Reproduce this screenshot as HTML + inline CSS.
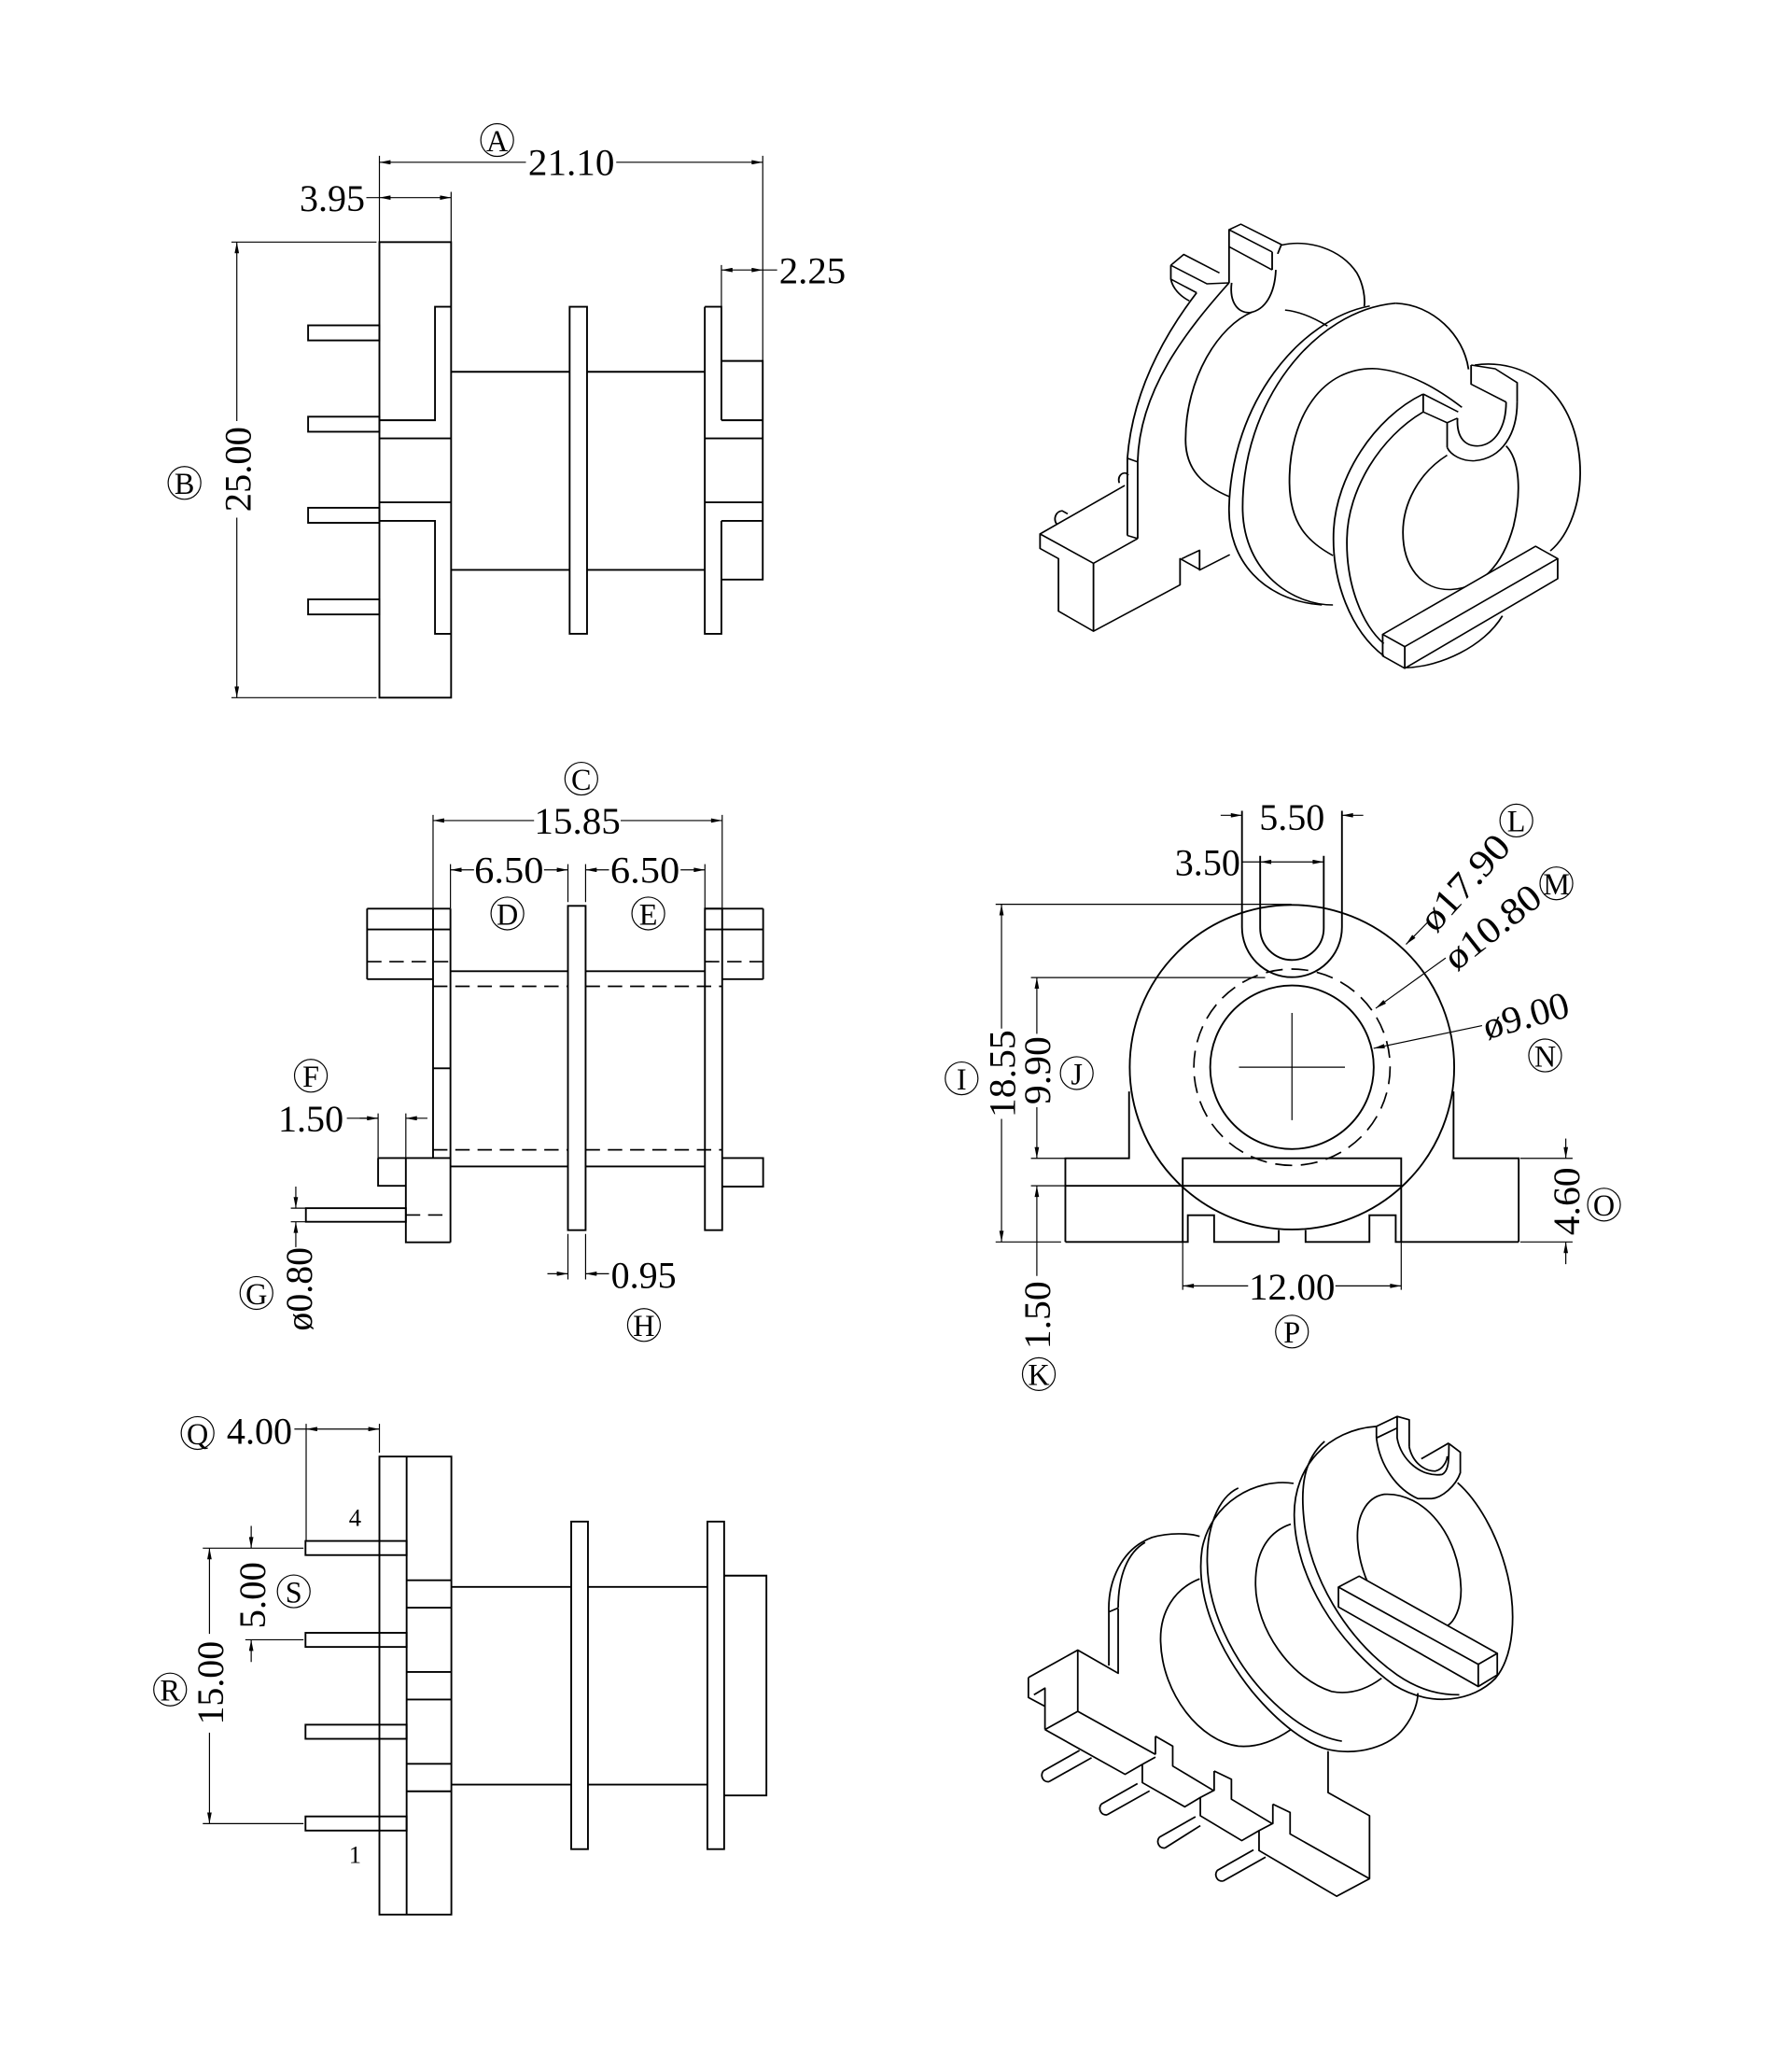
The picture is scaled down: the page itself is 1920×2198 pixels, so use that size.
<!DOCTYPE html>
<html><head><meta charset="utf-8"><style>
html,body{margin:0;padding:0;background:#fff}
svg{display:block}
.o{fill:none;stroke:#000;stroke-width:1.35}
.t{fill:none;stroke:#000;stroke-width:0.85}
.d{fill:none;stroke:#000;stroke-width:1.2;stroke-dasharray:11 6}
.g{fill:none;stroke:#000;stroke-width:4.6;stroke-linejoin:round}
.g8{fill:none;stroke:#000;stroke-width:4.8;stroke-linejoin:round}
text{font-family:"Liberation Serif","DejaVu Serif",serif;fill:#000}
.n{font-size:29px}
.c{font-size:23px}
</style></head><body>
<svg width="1920" height="2198" viewBox="0 0 1369.7 1568" xmlns="http://www.w3.org/2000/svg">
<defs>
<marker id="ar" viewBox="0 0 10 4" refX="10" refY="2" markerWidth="9" markerHeight="3.4" markerUnits="userSpaceOnUse" orient="auto-start-reverse"><path d="M0,0L10,2L0,4z" fill="#000"/></marker>
</defs>
<rect width="1369.7" height="1568" fill="#fff"/>

<!-- ============ VIEW 1 (top-left) ============ -->
<rect class="o" x="290" y="185" width="54.8" height="348.1"/>
<rect class="o" x="235.5" y="248.6" width="54.5" height="11.5"/>
<rect class="o" x="235.5" y="318.4" width="54.5" height="11.5"/>
<rect class="o" x="235.5" y="388" width="54.5" height="11.5"/>
<rect class="o" x="235.5" y="458" width="54.5" height="11.5"/>
<path class="o" d="M344.8,234.4H332.5V321.1H290M290,335H344.8M290,383.8H344.8M290,398H332.5V484.3H344.8"/>
<path class="o" d="M344.8,284.1H435.4M448.7,284.1H538.7M344.8,435.5H435.4M448.7,435.5H538.7"/>
<rect class="o" x="435.4" y="234.4" width="13.3" height="249.9"/>
<path class="o" d="M538.7,234.4V484.3H551.4V398M551.4,321.1V234.4H538.7"/>
<path class="o" d="M551.4,275.8H583V442.9H551.4M551.4,321.1H583M538.7,335H583M538.7,383.8H583M551.4,398H583"/>
<!-- dims view 1 -->
<path class="t" d="M290,119V185M583,119V275.8M344.8,146.6V185M551.4,202.5V234.4M176.9,185H287.8M176.9,533.1H287.8M280,151H290M583,206.3H594"/>
<line class="t" x1="402" y1="124" x2="290" y2="124" marker-end="url(#ar)"/>
<line class="t" x1="471" y1="124" x2="583" y2="124" marker-end="url(#ar)"/>
<line class="t" x1="290" y1="151" x2="344.8" y2="151" marker-start="url(#ar)" marker-end="url(#ar)"/>
<line class="t" x1="551.4" y1="206.3" x2="583" y2="206.3" marker-start="url(#ar)" marker-end="url(#ar)"/>
<line class="t" x1="181" y1="321.7" x2="181" y2="185" marker-end="url(#ar)"/>
<line class="t" x1="181" y1="395.6" x2="181" y2="533.1" marker-end="url(#ar)"/>
<text class="n" x="436.7" y="124" text-anchor="middle" dominant-baseline="central" textLength="66" lengthAdjust="spacingAndGlyphs">21.10</text>
<text class="n" x="254" y="151.5" text-anchor="middle" dominant-baseline="central" textLength="50" lengthAdjust="spacingAndGlyphs">3.95</text>
<text class="n" x="621" y="207" text-anchor="middle" dominant-baseline="central" textLength="51" lengthAdjust="spacingAndGlyphs">2.25</text>
<text class="n" transform="translate(182,358.6) rotate(-90)" text-anchor="middle" dominant-baseline="central" textLength="65" lengthAdjust="spacingAndGlyphs">25.00</text>
<circle class="t" cx="380" cy="107" r="12.5"/><text class="c" x="380" y="107.6" text-anchor="middle" dominant-baseline="central">A</text>
<circle class="t" cx="141" cy="369" r="12.5"/><text class="c" x="141" y="369.6" text-anchor="middle" dominant-baseline="central">B</text>

<!-- ============ VIEW 2 (middle-left) ============ -->
<path class="o" d="M280.6,694.3H344.3M280.6,710.2H344.3M280.6,748.2H331M280.6,694.3V748.2"/>
<line class="d" x1="280.6" y1="734.8" x2="344.3" y2="734.8"/>
<path class="o" d="M331,694.3V884.9M344.3,694.3V949.3M331,816.3H344.3"/>
<path class="o" d="M344.3,742.1H434.1M447.6,742.1H538.8M344.3,891.3H434.1M447.6,891.3H538.8"/>
<path class="d" d="M331,753.7H434.1M447.6,753.7H552M331,878.6H434.1M447.6,878.6H552"/>
<rect class="o" x="434.1" y="692.2" width="13.5" height="247.8"/>
<rect class="o" x="538.8" y="694.3" width="13.2" height="245.7"/>
<path class="o" d="M538.8,694.3H583.3M538.8,710.2H583.3M552,748.2H583.3M583.3,694.3V748.2"/>
<line class="d" x1="538.8" y1="734.8" x2="583.3" y2="734.8"/>
<path class="o" d="M552,884.9H583.3V906.7H552"/>
<path class="o" d="M289,884.9H344.3M289,884.9V906.1H310.2M310.2,884.9V949.3H344.3"/>
<line class="d" x1="310.2" y1="928.4" x2="344.3" y2="928.4"/>
<rect class="o" x="233.8" y="923.2" width="76.4" height="10.4"/>
<!-- dims view 2 -->
<path class="t" d="M331,622.7V694.3M552,622.7V694.3M344.3,660.3V694.3M434.1,660.3V689.3M447.6,660.3V689.3M538.8,660.3V694.3M289,850.8V884.9M310.2,850.8V884.9M222.3,923.2H233.8M222.3,933.6H233.8M434.1,942.9V977.7M447.6,942.9V977.7M265.1,854.5H289"/>
<line class="t" x1="408.2" y1="627" x2="331" y2="627" marker-end="url(#ar)"/>
<line class="t" x1="474.4" y1="627" x2="552" y2="627" marker-end="url(#ar)"/>
<line class="t" x1="362.3" y1="664.7" x2="344.3" y2="664.7" marker-end="url(#ar)"/>
<line class="t" x1="415.8" y1="664.7" x2="434.1" y2="664.7" marker-end="url(#ar)"/>
<line class="t" x1="465.5" y1="664.7" x2="447.6" y2="664.7" marker-end="url(#ar)"/>
<line class="t" x1="520.2" y1="664.7" x2="538.8" y2="664.7" marker-end="url(#ar)"/>
<line class="t" x1="275" y1="854.5" x2="289" y2="854.5" marker-end="url(#ar)"/>
<line class="t" x1="326.7" y1="854.5" x2="310.2" y2="854.5" marker-end="url(#ar)"/>
<line class="t" x1="226.1" y1="906.7" x2="226.1" y2="923.2" marker-end="url(#ar)"/>
<line class="t" x1="226.1" y1="953" x2="226.1" y2="933.6" marker-end="url(#ar)"/>
<line class="t" x1="418.4" y1="973.3" x2="434.1" y2="973.3" marker-end="url(#ar)"/>
<line class="t" x1="465.5" y1="973.3" x2="447.6" y2="973.3" marker-end="url(#ar)"/>
<text class="n" x="441.3" y="627.5" text-anchor="middle" dominant-baseline="central" textLength="66" lengthAdjust="spacingAndGlyphs">15.85</text>
<text class="n" x="389" y="665" text-anchor="middle" dominant-baseline="central" textLength="53" lengthAdjust="spacingAndGlyphs">6.50</text>
<text class="n" x="493" y="665" text-anchor="middle" dominant-baseline="central" textLength="53" lengthAdjust="spacingAndGlyphs">6.50</text>
<text class="n" x="237.6" y="855" text-anchor="middle" dominant-baseline="central" textLength="50" lengthAdjust="spacingAndGlyphs">1.50</text>
<text class="n" transform="translate(228.5,985) rotate(-90)" text-anchor="middle" dominant-baseline="central" textLength="64" lengthAdjust="spacingAndGlyphs">ø0.80</text>
<text class="n" x="492" y="974.5" text-anchor="middle" dominant-baseline="central" textLength="50" lengthAdjust="spacingAndGlyphs">0.95</text>
<circle class="t" cx="444.3" cy="595" r="12.5"/><text class="c" x="444.3" y="595.6" text-anchor="middle" dominant-baseline="central">C</text>
<circle class="t" cx="387.8" cy="698" r="12.5"/><text class="c" x="387.8" y="698.6" text-anchor="middle" dominant-baseline="central">D</text>
<circle class="t" cx="495.5" cy="698" r="12.5"/><text class="c" x="495.5" y="698.6" text-anchor="middle" dominant-baseline="central">E</text>
<circle class="t" cx="237.6" cy="822" r="12.5"/><text class="c" x="237.6" y="822.6" text-anchor="middle" dominant-baseline="central">F</text>
<circle class="t" cx="196" cy="988" r="12.5"/><text class="c" x="196" y="988.6" text-anchor="middle" dominant-baseline="central">G</text>
<circle class="t" cx="492.2" cy="1012.5" r="12.5"/><text class="c" x="492.2" y="1013.1" text-anchor="middle" dominant-baseline="central">H</text>

<!-- ============ VIEW 3 (middle-right) ============ -->
<circle class="o" cx="987.5" cy="815.5" r="124"/>
<circle class="d" cx="987.5" cy="815.5" r="75" style="stroke-dasharray:13 6.6"/>
<circle class="o" cx="987.5" cy="815.5" r="62.5"/>
<path class="t" d="M947,815.5H1028M987.5,774V856"/>
<path class="o" d="M949.3,619.6V708.5A38.2,38.2 0 0 0 1025.7,708.5V619.6"/>
<path class="o" d="M963.2,654V709.3A24.3,24.3 0 0 0 1011.8,709.3V654"/>
<path class="o" d="M863,834V885.1H814.3V949M1111,834V885.1H1160.8V949M904,949V885.1H1071V949M814.3,906.1H1071"/>
<path class="o" d="M814.3,949H907.9V928.6H928V949H977.4V940M997.9,940V949H1046.7V928.6H1066.8V949H1160.8"/>
<!-- dims view 3 -->
<path class="t" d="M761,691H987M761,949H811M788,747H967M788,885.1H814M788,906.1H814M1162,885.1H1202M1162,949H1202M904,949V985.6M1071,949V985.6M949.8,658.6H963.2"/>
<line class="t" x1="765.5" y1="786" x2="765.5" y2="691" marker-end="url(#ar)"/>
<line class="t" x1="765.5" y1="855" x2="765.5" y2="949" marker-end="url(#ar)"/>
<line class="t" x1="792.5" y1="790" x2="792.5" y2="747" marker-end="url(#ar)"/>
<line class="t" x1="792.5" y1="846" x2="792.5" y2="885.1" marker-end="url(#ar)"/>
<line class="t" x1="792.5" y1="975" x2="792.5" y2="906.1" marker-end="url(#ar)"/>
<line class="t" x1="1196.8" y1="870" x2="1196.8" y2="885.1" marker-end="url(#ar)"/>
<line class="t" x1="1196.8" y1="966" x2="1196.8" y2="949" marker-end="url(#ar)"/>
<line class="t" x1="954" y1="982.6" x2="904" y2="982.6" marker-end="url(#ar)"/>
<line class="t" x1="1020.7" y1="982.6" x2="1071" y2="982.6" marker-end="url(#ar)"/>
<line class="t" x1="933" y1="623" x2="949.3" y2="623" marker-end="url(#ar)"/>
<line class="t" x1="1042" y1="623" x2="1025.7" y2="623" marker-end="url(#ar)"/>
<line class="t" x1="963.2" y1="658.6" x2="1011.8" y2="658.6" marker-start="url(#ar)" marker-end="url(#ar)"/>
<line class="t" x1="1091" y1="705" x2="1074.7" y2="721.6" marker-end="url(#ar)"/>
<line class="t" x1="1105" y1="732" x2="1051.5" y2="770.5" marker-end="url(#ar)"/>
<line class="t" x1="1132.8" y1="783.7" x2="1049.9" y2="801.1" marker-end="url(#ar)"/>
<text class="n" transform="translate(766,820.5) rotate(-90)" text-anchor="middle" dominant-baseline="central" textLength="67" lengthAdjust="spacingAndGlyphs">18.55</text>
<text class="n" transform="translate(793,818) rotate(-90)" text-anchor="middle" dominant-baseline="central" textLength="52" lengthAdjust="spacingAndGlyphs">9.90</text>
<text class="n" transform="translate(793,1005) rotate(-90)" text-anchor="middle" dominant-baseline="central" textLength="52" lengthAdjust="spacingAndGlyphs">1.50</text>
<text class="n" transform="translate(1197.5,918) rotate(-90)" text-anchor="middle" dominant-baseline="central" textLength="52" lengthAdjust="spacingAndGlyphs">4.60</text>
<text class="n" x="987.5" y="983.5" text-anchor="middle" dominant-baseline="central" textLength="66" lengthAdjust="spacingAndGlyphs">12.00</text>
<text class="n" x="987.5" y="624.5" text-anchor="middle" dominant-baseline="central" textLength="50" lengthAdjust="spacingAndGlyphs">5.50</text>
<text class="n" x="923" y="659" text-anchor="middle" dominant-baseline="central" textLength="50" lengthAdjust="spacingAndGlyphs">3.50</text>
<text class="n" transform="translate(1090,707) rotate(-48)" text-anchor="start" dominant-baseline="central" textLength="88" lengthAdjust="spacingAndGlyphs">ø17.90</text>
<text class="n" transform="translate(1107,735) rotate(-38.3)" text-anchor="start" dominant-baseline="central" textLength="86" lengthAdjust="spacingAndGlyphs">ø10.80</text>
<text class="n" transform="translate(1134,785) rotate(-15.5)" text-anchor="start" dominant-baseline="central" textLength="67" lengthAdjust="spacingAndGlyphs">ø9.00</text>
<circle class="t" cx="735" cy="824" r="12.5"/><text class="c" x="735" y="824.6" text-anchor="middle" dominant-baseline="central">I</text>
<circle class="t" cx="823" cy="820" r="12.5"/><text class="c" x="823" y="820.6" text-anchor="middle" dominant-baseline="central">J</text>
<circle class="t" cx="794" cy="1050" r="12.5"/><text class="c" x="794" y="1050.6" text-anchor="middle" dominant-baseline="central">K</text>
<circle class="t" cx="1159" cy="627" r="12.5"/><text class="c" x="1159" y="627.6" text-anchor="middle" dominant-baseline="central">L</text>
<circle class="t" cx="1189.6" cy="675" r="12.5"/><text class="c" x="1189.6" y="675.6" text-anchor="middle" dominant-baseline="central">M</text>
<circle class="t" cx="1181" cy="806.5" r="12.5"/><text class="c" x="1181" y="807.1" text-anchor="middle" dominant-baseline="central">N</text>
<circle class="t" cx="1226" cy="920.5" r="12.5"/><text class="c" x="1226" y="921.1" text-anchor="middle" dominant-baseline="central">O</text>
<circle class="t" cx="987.5" cy="1017.5" r="12.5"/><text class="c" x="987.5" y="1018.1" text-anchor="middle" dominant-baseline="central">P</text>

<!-- ============ VIEW 4 (bottom-left) ============ -->
<rect class="o" x="290" y="1113" width="55" height="350"/>
<path class="o" d="M310.8,1113V1463M310.8,1207.5H345M310.8,1228.5H345M310.8,1277.6H345M310.8,1298.7H345M310.8,1347.8H345M310.8,1368.8H345"/>
<rect class="o" x="233.5" y="1177.5" width="77.3" height="10.8"/>
<rect class="o" x="233.5" y="1247.7" width="77.3" height="10.8"/>
<rect class="o" x="233.5" y="1317.9" width="77.3" height="10.8"/>
<rect class="o" x="233.5" y="1388" width="77.3" height="10.8"/>
<path class="o" d="M345,1212.6H436.6M449.4,1212.6H540.7M345,1363.7H436.6M449.4,1363.7H540.7"/>
<rect class="o" x="436.6" y="1162.7" width="12.8" height="250.3"/>
<rect class="o" x="540.7" y="1162.7" width="12.8" height="250.3"/>
<path class="o" d="M553.5,1204H585.8V1372H553.5"/>
<!-- dims view 4 -->
<path class="t" d="M234,1088V1177.5M290,1088V1110M225,1092H234M155,1183H232M155,1393.5H232M187.5,1253H232"/>
<line class="t" x1="234" y1="1092" x2="290" y2="1092" marker-start="url(#ar)" marker-end="url(#ar)"/>
<line class="t" x1="160.1" y1="1248.5" x2="160.1" y2="1183" marker-end="url(#ar)"/>
<line class="t" x1="160.1" y1="1324" x2="160.1" y2="1393.5" marker-end="url(#ar)"/>
<line class="t" x1="192" y1="1166" x2="192" y2="1183" marker-end="url(#ar)"/>
<line class="t" x1="192" y1="1270" x2="192" y2="1253" marker-end="url(#ar)"/>
<text class="n" x="198.3" y="1093.5" text-anchor="middle" dominant-baseline="central" textLength="50" lengthAdjust="spacingAndGlyphs">4.00</text>
<text class="n" transform="translate(161,1286) rotate(-90)" text-anchor="middle" dominant-baseline="central" textLength="64" lengthAdjust="spacingAndGlyphs">15.00</text>
<text class="n" transform="translate(193,1219) rotate(-90)" text-anchor="middle" dominant-baseline="central" textLength="51" lengthAdjust="spacingAndGlyphs">5.00</text>
<text x="271.4" y="1159.5" font-size="19" text-anchor="middle" dominant-baseline="central">4</text>
<text x="271.4" y="1417" font-size="19" text-anchor="middle" dominant-baseline="central">1</text>
<circle class="t" cx="151" cy="1095" r="12.5"/><text class="c" x="151" y="1095.6" text-anchor="middle" dominant-baseline="central">Q</text>
<circle class="t" cx="130" cy="1291" r="12.5"/><text class="c" x="130" y="1291.6" text-anchor="middle" dominant-baseline="central">R</text>
<circle class="t" cx="224.5" cy="1216" r="12.5"/><text class="c" x="224.5" y="1216.6" text-anchor="middle" dominant-baseline="central">S</text>

<!-- ============ VIEW 5 (top-right 3D) ============ -->
<g transform="matrix(0.2816 0 0 0.236 785.1 166.1)" class="g">
<path d="M390,155L425,120L522,180M390,155L488,215L548,212M390,155L390,200L460,244M390,200C395,230 415,255 440,270"/>
<path d="M460,244C360,400 285,580 272,780L272,1030M548,212C430,370 305,560 300,790L300,1040M272,780L300,792M272,1030L300,1040"/>
<path d="M548,212L548,40L580,22L690,88L680,118M548,40L665,112M548,95L665,170M665,112L665,170"/>
<path d="M555,212C548,280 575,310 605,308C645,300 672,250 675,170"/>
<path d="M690,90C760,70 850,100 895,180C912,215 918,260 915,288"/>
<path d="M265,868L35,1025L180,1120L300,1040M35,1025L35,1072L85,1105L85,1275L180,1340L415,1190L415,1105L468,1140M180,1120L180,1340M420,1105L468,1078L468,1142L550,1092"/>
<path d="M80,993C70,975 78,952 95,950L110,960M250,860C245,840 255,826 268,828L275,835"/>
<path d="M612,306C520,350 430,520 430,720C430,820 480,870 550,905M700,300C745,305 785,330 815,352"/>
<path d="M930,287C740,330 555,600 548,940C545,1110 640,1240 800,1255"/>
<path d="M1000,278C780,300 580,600 585,950C590,1150 720,1255 830,1255"/>
<path d="M1000,278C1100,282 1185,380 1198,492"/>
<path d="M950,490C800,480 710,650 712,860C713,990 760,1050 830,1095M950,490C1040,500 1120,560 1180,615"/>
<path d="M1215,478C1350,455 1485,560 1500,790C1508,920 1470,1030 1420,1080"/>
<path d="M1075,572C940,650 840,840 832,1010C825,1180 880,1340 968,1420"/>
<path d="M1075,630C960,710 870,880 868,1040C865,1190 910,1320 968,1380"/>
<path d="M1075,572L1170,630M1075,572L1075,630L1140,665L1140,745M1140,665L1168,650"/>
<path d="M1205,478L1205,540L1300,598M1205,478L1270,490L1330,535L1330,598"/>
<path d="M1300,598C1300,680 1270,735 1225,740C1190,742 1165,715 1168,650"/>
<path d="M1330,598C1330,700 1290,780 1215,788C1180,790 1150,770 1140,745"/>
<path d="M1300,740C1340,790 1340,900 1320,1000C1290,1130 1230,1200 1150,1205C1070,1208 1020,1130 1020,1020C1020,930 1060,830 1140,770"/>
<path d="M965,1350L1380,1065L1440,1105L1025,1390Z" fill="#fff"/>
<path d="M965,1350L965,1420L1025,1460L1025,1390M1025,1460L1440,1170L1440,1105"/>
<path d="M1030,1458C1120,1455 1240,1390 1290,1290"/>
</g>

<!-- ============ VIEW 6 (bottom-right 3D) ============ -->
<g transform="matrix(0.2639 0 0 0.2532 777.6 1077.3)" class="g8">
<path d="M265,610C262,520 300,420 390,385C440,370 500,372 528,382M292,598C292,500 320,430 370,400M265,610L292,598M265,610L265,772"/>
<path d="M528,510C455,540 412,610 415,700C420,860 530,1000 640,1015C700,1020 750,995 792,965"/>
<path d="M800,222C690,205 560,280 535,420C515,560 580,720 680,850C760,950 840,1010 900,1025C990,1045 1080,1015 1120,960C1150,920 1160,880 1160,855"/>
<path d="M640,236C580,265 548,360 550,460C552,620 640,790 760,900C820,955 880,990 940,1000"/>
<path d="M792,345C720,370 688,440 690,530C692,660 790,810 910,850C960,860 1010,845 1055,810"/>
<path d="M1040,50C900,60 800,170 802,320C805,500 920,700 1090,830C1200,900 1320,880 1385,810C1440,740 1445,610 1420,500C1390,370 1330,270 1275,220"/>
<path d="M890,95C830,150 820,230 830,330C845,500 950,690 1100,800C1170,850 1230,860 1280,860"/>
<path d="M1062,255C1180,248 1280,380 1285,540C1286,600 1265,640 1245,652M1062,255C1005,265 985,330 985,380C985,450 1010,520 1035,560"/>
<path d="M1040,85L1040,50L1100,20L1135,30L1135,112M1040,85L1100,55M1100,20L1100,85C1110,150 1170,205 1230,195C1250,185 1250,150 1250,102M1135,112C1145,160 1180,185 1210,185C1235,180 1245,150 1245,140M1250,102L1283,128L1283,190C1270,230 1230,265 1200,268L1160,268C1100,240 1050,170 1040,85M1170,148L1250,100"/>
<path d="M930,535L990,502L1390,735L1335,768Z" fill="#fff"/>
<path d="M930,535L930,595L1335,835L1335,768M1335,835L1390,800L1390,735"/>
<path d="M32,808L175,725L292,795L292,600M32,808L32,868L80,895L80,965M48,860L80,840L80,895M80,965L175,910L175,725M175,910L400,1040M80,965L312,1100L362,1070"/>
<path d="M400,985L400,1040M400,985L450,1015L450,1075L570,1150M362,1070L362,1125L485,1198L530,1170L530,1225L650,1300L700,1270L700,1330L925,1468L1020,1415L1020,1225L900,1155L900,1030"/>
<path d="M570,1090L570,1150M570,1090L620,1115L620,1175L740,1250M740,1190L740,1250M740,1190L790,1215L790,1280L1020,1415"/>
<path d="M362,1070L400,1048M530,1170L570,1148M700,1270L740,1248"/>
<path d="M75,1090L180,1028M92,1122L215,1050M75,1090C65,1105 75,1125 92,1122"/>
<path d="M243,1190L348,1128M260,1222L383,1150M243,1190C233,1205 243,1225 260,1222"/>
<path d="M411,1290L516,1228M428,1322L530,1255M411,1290C401,1305 411,1325 428,1322"/>
<path d="M579,1390L684,1328M596,1422L719,1350M579,1390C569,1405 579,1425 596,1422"/>
</g>
</svg>
</body></html>
